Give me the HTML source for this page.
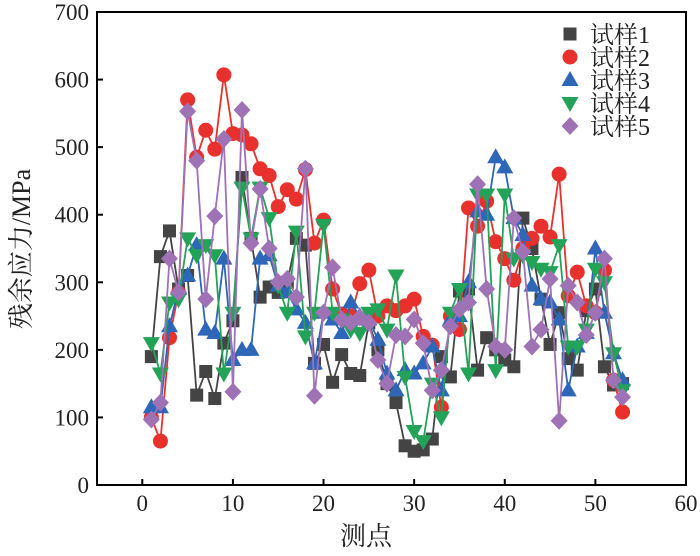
<!DOCTYPE html>
<html><head><meta charset="utf-8"><style>
body{margin:0;background:#fff;width:700px;height:551px;overflow:hidden}
text{font-family:"Liberation Serif","Noto Serif CJK SC",serif;fill:#222}
</style></head><body>
<svg id="s" width="700" height="551" xmlns="http://www.w3.org/2000/svg"></svg>
<script>
const S=document.getElementById('s');
const X0=97,X1=686,Y0=485,Y1=12;
const px=v=>X0+(v+5)*(X1-X0)/65, py=v=>Y0-v*(Y0-Y1)/700;
let h='';
const d=[
[190,338,376,290,310,133,168,128,210,243,455,365,278,293,285,300,365,355,180,208,152,193,165,162,240,200,150,122,58,50,52,68,190,160,287,290,170,218,200,185,175,395,350,275,208,255,187,170,258,290,175,148,150],
[100,65,218,285,570,485,525,497,607,520,518,505,468,458,412,437,423,467,358,392,290,253,250,298,318,250,265,258,265,275,220,207,115,250,230,410,383,420,360,335,303,350,365,383,367,460,280,315,265,255,318,155,108],
[115,115,235,290,310,355,230,225,335,185,200,200,335,340,295,285,260,240,180,255,245,225,270,250,245,215,165,140,170,165,180,205,140,245,250,300,405,400,485,470,395,370,295,275,270,245,140,205,225,350,255,195,155],
[210,165,270,275,365,340,355,340,165,255,440,365,440,395,295,255,375,220,255,385,255,245,230,225,255,260,230,310,160,80,65,150,100,255,290,165,430,430,170,430,335,340,330,320,315,355,205,205,230,320,300,195,140],
[97,122,335,285,553,480,275,398,512,138,555,358,438,350,300,305,278,468,132,255,322,245,240,248,240,185,150,222,220,245,210,140,170,235,260,270,445,290,205,200,395,345,205,230,305,95,295,270,222,255,335,155,130]];
const col=['#444','#e8302c','#2e66b8','#23a358','#9e72b5'];
function mk(k,x,y){const c=col[k];
 if(k==0)return `<rect x="${x-6.5}" y="${y-6.5}" width="13" height="13" fill="${c}"/>`;
 if(k==1)return `<circle cx="${x}" cy="${y}" r="7.5" fill="${c}"/>`;
 if(k==2)return `<polygon points="${x},${y-9} ${x-8.5},${y+6} ${x+8.5},${y+6}" fill="${c}"/>`;
 if(k==3)return `<polygon points="${x},${y+9} ${x-8.5},${y-6} ${x+8.5},${y-6}" fill="${c}"/>`;
 return `<polygon points="${x},${y-9} ${x+8.5},${y} ${x},${y+9} ${x-8.5},${y}" fill="${c}"/>`;}
d.forEach((a,k)=>{h+=`<polyline fill="none" stroke="${col[k]}" stroke-width="1.8" points="${a.map((v,i)=>px(i+1)+','+py(v)).join(' ')}"/>`;
 a.forEach((v,i)=>h+=mk(k,px(i+1),py(v)));});
h+=`<rect x="${X0}" y="${Y1}" width="${X1-X0}" height="${Y0-Y1}" fill="none" stroke="#000" stroke-width="2"/>`;
for(let v=0;v<=700;v+=100){const y=py(v);h+=`<line x1="${X0}" x2="${X0+6}" y1="${y}" y2="${y}" stroke="#000" stroke-width="2"/><text x="${X0-8}" y="${y+8}" font-size="23" text-anchor="end">${v}</text>`;}
for(let v=0;v<=60;v+=10){const x=px(v);h+=`<line x1="${x}" x2="${x}" y1="${Y0}" y2="${Y0-6}" stroke="#000" stroke-width="2"/><text x="${x}" y="${Y0+26}" font-size="23" text-anchor="middle">${v}</text>`;}
h+=`<text x="366" y="545" font-size="26" text-anchor="middle">测点</text>`;
h+=`<text transform="translate(30,249) rotate(-90)" font-size="26" text-anchor="middle">残余应力/MPa</text>`;
[25,48,71,94,117].forEach((y,k)=>{h+=mk(k,570,y+9)+`<text x="590" y="${y+18}" font-size="24">试样${k+1}</text>`;});
S.innerHTML=h;
</script>
</body></html>
